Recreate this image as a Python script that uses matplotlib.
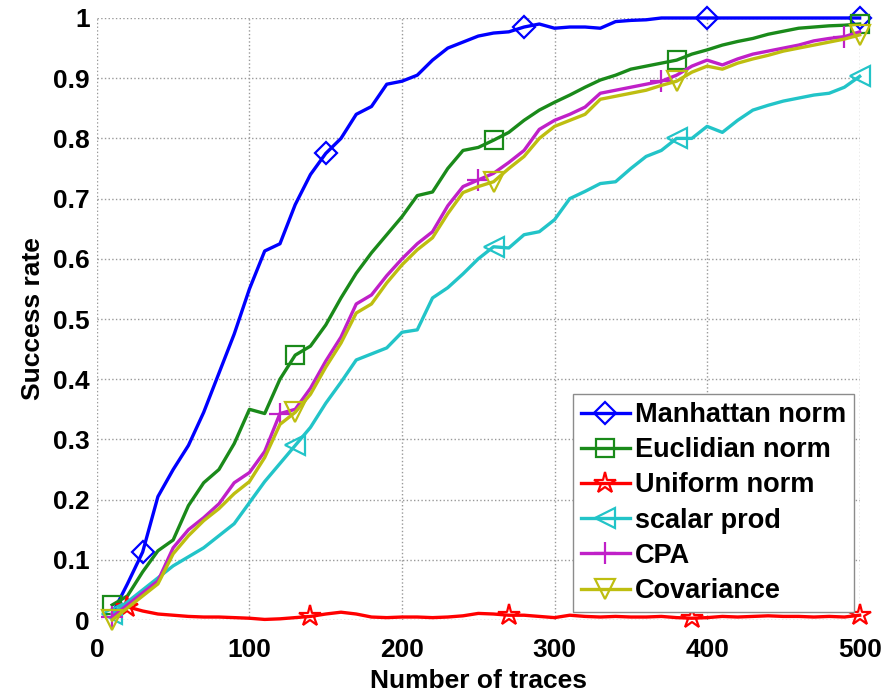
import matplotlib
matplotlib.use("Agg")
import matplotlib.pyplot as plt

plt.rcParams["font.family"] = ["Liberation Sans", "DejaVu Sans"]
plt.rcParams["font.size"] = 19
plt.rcParams["font.weight"] = "bold"

traces = list(range(10, 501, 10))

manhattan = [0.01, 0.06, 0.113, 0.205, 0.25, 0.29, 0.345, 0.41, 0.475, 0.55,
             0.613, 0.625, 0.69, 0.74, 0.775, 0.80, 0.84, 0.853, 0.89, 0.895,
             0.905, 0.93, 0.95, 0.96, 0.97, 0.975, 0.977, 0.985, 0.99, 0.983,
             0.985, 0.985, 0.983, 0.994, 0.996, 0.997, 1.0, 1.0, 1.0, 1.0,
             1.0, 1.0, 1.0, 1.0, 1.0, 1.0, 1.0, 1.0, 1.0, 1.0]
euclidian = [0.025, 0.04, 0.08, 0.115, 0.133, 0.19, 0.228, 0.25, 0.293, 0.35,
             0.343, 0.40, 0.44, 0.455, 0.49, 0.535, 0.576, 0.61, 0.64, 0.67,
             0.705, 0.711, 0.75, 0.78, 0.785, 0.797, 0.81, 0.83, 0.847, 0.86,
             0.872, 0.885, 0.897, 0.905, 0.915, 0.92, 0.925, 0.93, 0.94, 0.947,
             0.955, 0.961, 0.966, 0.973, 0.978, 0.983, 0.985, 0.987, 0.988, 0.99]
uniform = [0.01, 0.022, 0.015, 0.01, 0.008, 0.006, 0.005, 0.005, 0.004, 0.003,
           0.001, 0.002, 0.004, 0.006, 0.01, 0.013, 0.01, 0.005, 0.004, 0.005,
           0.005, 0.004, 0.005, 0.007, 0.011, 0.01, 0.008, 0.008, 0.006, 0.004,
           0.008, 0.006, 0.005, 0.006, 0.005, 0.005, 0.006, 0.004, 0.003, 0.004,
           0.006, 0.005, 0.006, 0.007, 0.006, 0.006, 0.005, 0.006, 0.005, 0.008]
scalar = [0.01, 0.03, 0.05, 0.07, 0.09, 0.105, 0.12, 0.14, 0.16, 0.195,
          0.23, 0.26, 0.29, 0.32, 0.36, 0.395, 0.432, 0.442, 0.452, 0.478,
          0.482, 0.535, 0.552, 0.575, 0.60, 0.62, 0.618, 0.64, 0.645, 0.665,
          0.70, 0.712, 0.725, 0.728, 0.75, 0.77, 0.78, 0.80, 0.80, 0.82,
          0.81, 0.83, 0.847, 0.855, 0.862, 0.867, 0.872, 0.875, 0.885, 0.903]
cpa = [0.005, 0.025, 0.045, 0.065, 0.12, 0.15, 0.17, 0.193, 0.228, 0.245,
       0.28, 0.343, 0.35, 0.385, 0.43, 0.47, 0.525, 0.54, 0.572, 0.60,
       0.625, 0.645, 0.688, 0.72, 0.731, 0.742, 0.76, 0.78, 0.815, 0.83,
       0.84, 0.852, 0.875, 0.88, 0.885, 0.89, 0.895, 0.905, 0.92, 0.93,
       0.922, 0.932, 0.94, 0.945, 0.95, 0.955, 0.962, 0.966, 0.969, 0.977]
covariance = [0.0, 0.02, 0.04, 0.06, 0.11, 0.14, 0.165, 0.185, 0.21, 0.23,
              0.27, 0.325, 0.345, 0.375, 0.42, 0.46, 0.51, 0.525, 0.56, 0.59,
              0.615, 0.635, 0.675, 0.71, 0.72, 0.728, 0.75, 0.77, 0.80, 0.82,
              0.83, 0.84, 0.865, 0.87, 0.875, 0.88, 0.888, 0.895, 0.91, 0.92,
              0.915, 0.925, 0.932, 0.938, 0.945, 0.95, 0.955, 0.96, 0.965, 0.972]

# trace counts where each curve carries a marker
marks_manhattan = [30, 150, 280, 400, 500]
marks_euclidian = [10, 130, 260, 380, 500]
marks_uniform = [20, 140, 270, 390, 500]
marks_scalar = [10, 130, 260, 380, 500]
marks_cpa = [10, 120, 250, 370, 490]
marks_covariance = [10, 130, 260, 380, 500]

xticks = [0, 100, 200, 300, 400, 500]
yticks = [0, 0.1, 0.2, 0.3, 0.4, 0.5, 0.6, 0.7, 0.8, 0.9, 1]
ytick_labels = ["0", "0.1", "0.2", "0.3", "0.4", "0.5", "0.6", "0.7", "0.8", "0.9", "1"]

series = [
    ("Manhattan norm", manhattan, marks_manhattan, "#0000ff", "D", 11),
    ("Euclidian norm", euclidian, marks_euclidian, "#1a8a1a", "s", 13),
    ("Uniform norm", uniform, marks_uniform, "#ff0000", "*", 16),
    ("scalar prod", scalar, marks_scalar, "#22c4c8", "<", 15),
    ("CPA", cpa, marks_cpa, "#c020c8", "+", 16),
    ("Covariance", covariance, marks_covariance, "#bebe10", "v", 15),
]

fig = plt.figure(figsize=(8.89, 6.92), dpi=100)
ax = fig.add_axes([0.109, 0.104, 0.858, 0.870])

for name, vals, marks, color, marker, ms in series:
    idx = [traces.index(m) for m in marks]
    ax.plot(traces, vals, color=color, lw=2.4, marker=marker, ms=ms,
            markevery=idx, markerfacecolor="none", markeredgecolor=color,
            markeredgewidth=1.6, label=name, clip_on=False, zorder=3)

ax.set_xlim(0, 500)
ax.set_ylim(0, 1)
ax.set_xticks(xticks)
ax.set_yticks(yticks)
ax.set_yticklabels(ytick_labels)
ax.tick_params(length=0)
ax.tick_params(axis="x", pad=13)
ax.tick_params(axis="y", pad=5)
for s in ax.spines.values():
    s.set_visible(False)
ax.grid(True, linestyle=":", color="0.6", lw=1.0)
ax.set_axisbelow(True)

ax.set_xlabel("Number of traces", fontweight="bold", labelpad=5)
ax.set_ylabel("Success rate", fontweight="bold", labelpad=6)

leg = ax.legend(loc="lower right", bbox_to_anchor=(0.993, 0.013), borderaxespad=0,
                handlelength=1.8, handletextpad=0.2, labelspacing=0.34,
                borderpad=0.3, fancybox=False, framealpha=1, numpoints=1,
                prop={"weight": "bold", "size": 19.5})
leg.get_frame().set_edgecolor("0.55")
leg.get_frame().set_linewidth(1.0)
leg.set_zorder(5)

fig.savefig("out.png", dpi=100)
